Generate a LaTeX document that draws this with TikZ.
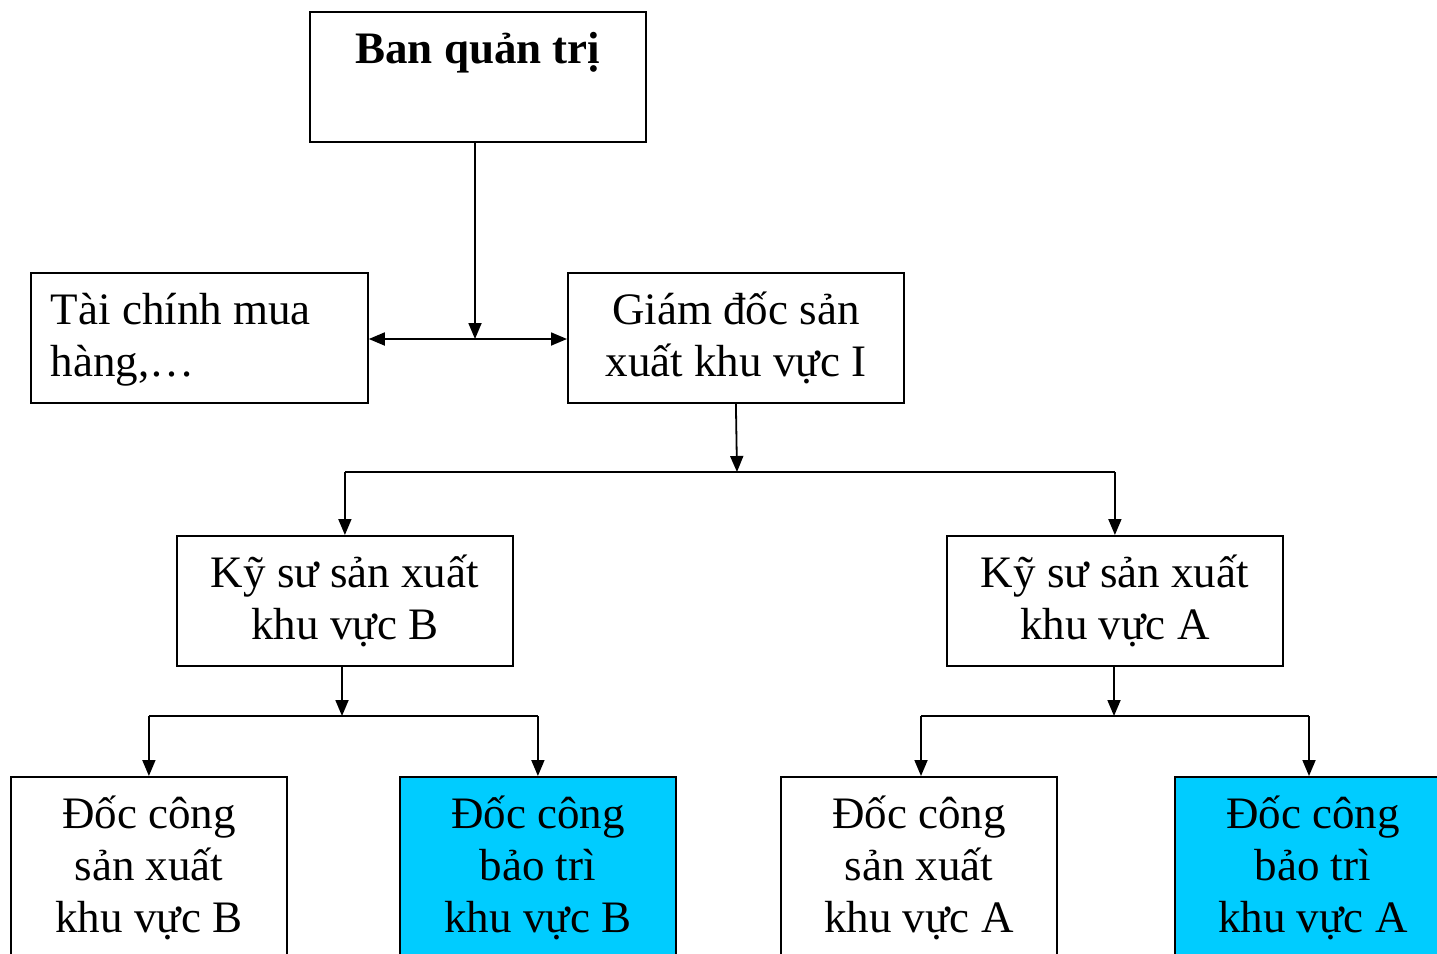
\documentclass[tikz,border=0pt]{standalone}
\usepackage{fontspec}
\setmainfont{Liberation Serif}
\usetikzlibrary{arrows.meta}
\definecolor{boxcyan}{RGB}{0,204,255}
% box body: width, height, alignment, text
\newcommand{\orgtext}[4]{\parbox[c][#2][t]{#1}{\fontsize{45pt}{52pt}\selectfont#3\vspace*{15pt}\strut #4}}
\tikzset{
  orgbox/.style={draw, line width=1.8pt, inner sep=0pt, anchor=north west},
  cyanbox/.style={orgbox, fill=boxcyan},
  link/.style={line width=1.8pt},
  arr/.style={link, -{Triangle[width=13pt,length=16pt]}},
  dblarr/.style={link, {Triangle[width=13pt,length=16pt]}-{Triangle[width=13pt,length=16pt]}},
}
\begin{document}
\begin{tikzpicture}[x=1pt, y=-1pt]
\useasboundingbox (0,0) rectangle (1437,953);
\clip (0,0) rectangle (1437,953);

% top level
\node[orgbox] (bqt) at (309,11) {\orgtext{336pt}{130pt}{\centering}{\bfseries Ban quản trị}};
\node[orgbox] (tc) at (30,272) {\orgtext{337pt}{130pt}{\raggedright\leftskip=20pt}{Tài chính mua\\hàng,…}};
\node[orgbox] (gd) at (567,272) {\orgtext{336pt}{130pt}{\centering}{Giám đốc sản\\xuất khu vực I}};

% engineers
\node[orgbox] (kb) at (176,535) {\orgtext{336pt}{130pt}{\centering}{Kỹ sư sản xuất\\khu vực B}};
\node[orgbox] (ka) at (946,535) {\orgtext{336pt}{130pt}{\centering}{Kỹ sư sản xuất\\khu vực A}};

% foremen
\node[orgbox]  (sxb) at (10,776)   {\orgtext{276pt}{200pt}{\centering}{Đốc công\\sản xuất\\khu vực B}};
\node[cyanbox] (btb) at (399,776)  {\orgtext{276pt}{200pt}{\centering}{Đốc công\\bảo trì\\khu vực B}};
\node[orgbox]  (sxa) at (780,776)  {\orgtext{276pt}{200pt}{\centering}{Đốc công\\sản xuất\\khu vực A}};
\node[cyanbox] (bta) at (1174,776) {\orgtext{276pt}{200pt}{\centering}{Đốc công\\bảo trì\\khu vực A}};

% junction levels
\coordinate (j1) at (475,339);
\coordinate (j2) at (737,472);
\coordinate (j3) at (342,716);
\coordinate (j4) at (1114,716);

% board to the split arrow
\draw[arr] (bqt.south -| j1) -- (j1);
\draw[dblarr] (tc.east |- j1) -- (gd.west |- j1);

% director to engineers
\draw[arr] (gd.south) -- (j2);
\draw[link] (kb.north |- j2) -- (ka.north |- j2);
\draw[arr] (kb.north |- j2) -- (kb.north);
\draw[arr] (ka.north |- j2) -- (ka.north);

% engineer B to foremen
\draw[arr] (kb.south -| j3) -- (j3);
\draw[link] (sxb.north |- j3) -- (btb.north |- j3);
\draw[arr] (sxb.north |- j3) -- (sxb.north);
\draw[arr] (btb.north |- j3) -- (btb.north);

% engineer A to foremen
\draw[arr] (ka.south -| j4) -- (j4);
\coordinate (pa) at (921,716);
\coordinate (pb) at (1309,716);
\draw[link] (pa) -- (pb);
\draw[arr] (pa) -- (pa |- sxa.north);
\draw[arr] (pb) -- (pb |- bta.north);
\end{tikzpicture}
\end{document}
